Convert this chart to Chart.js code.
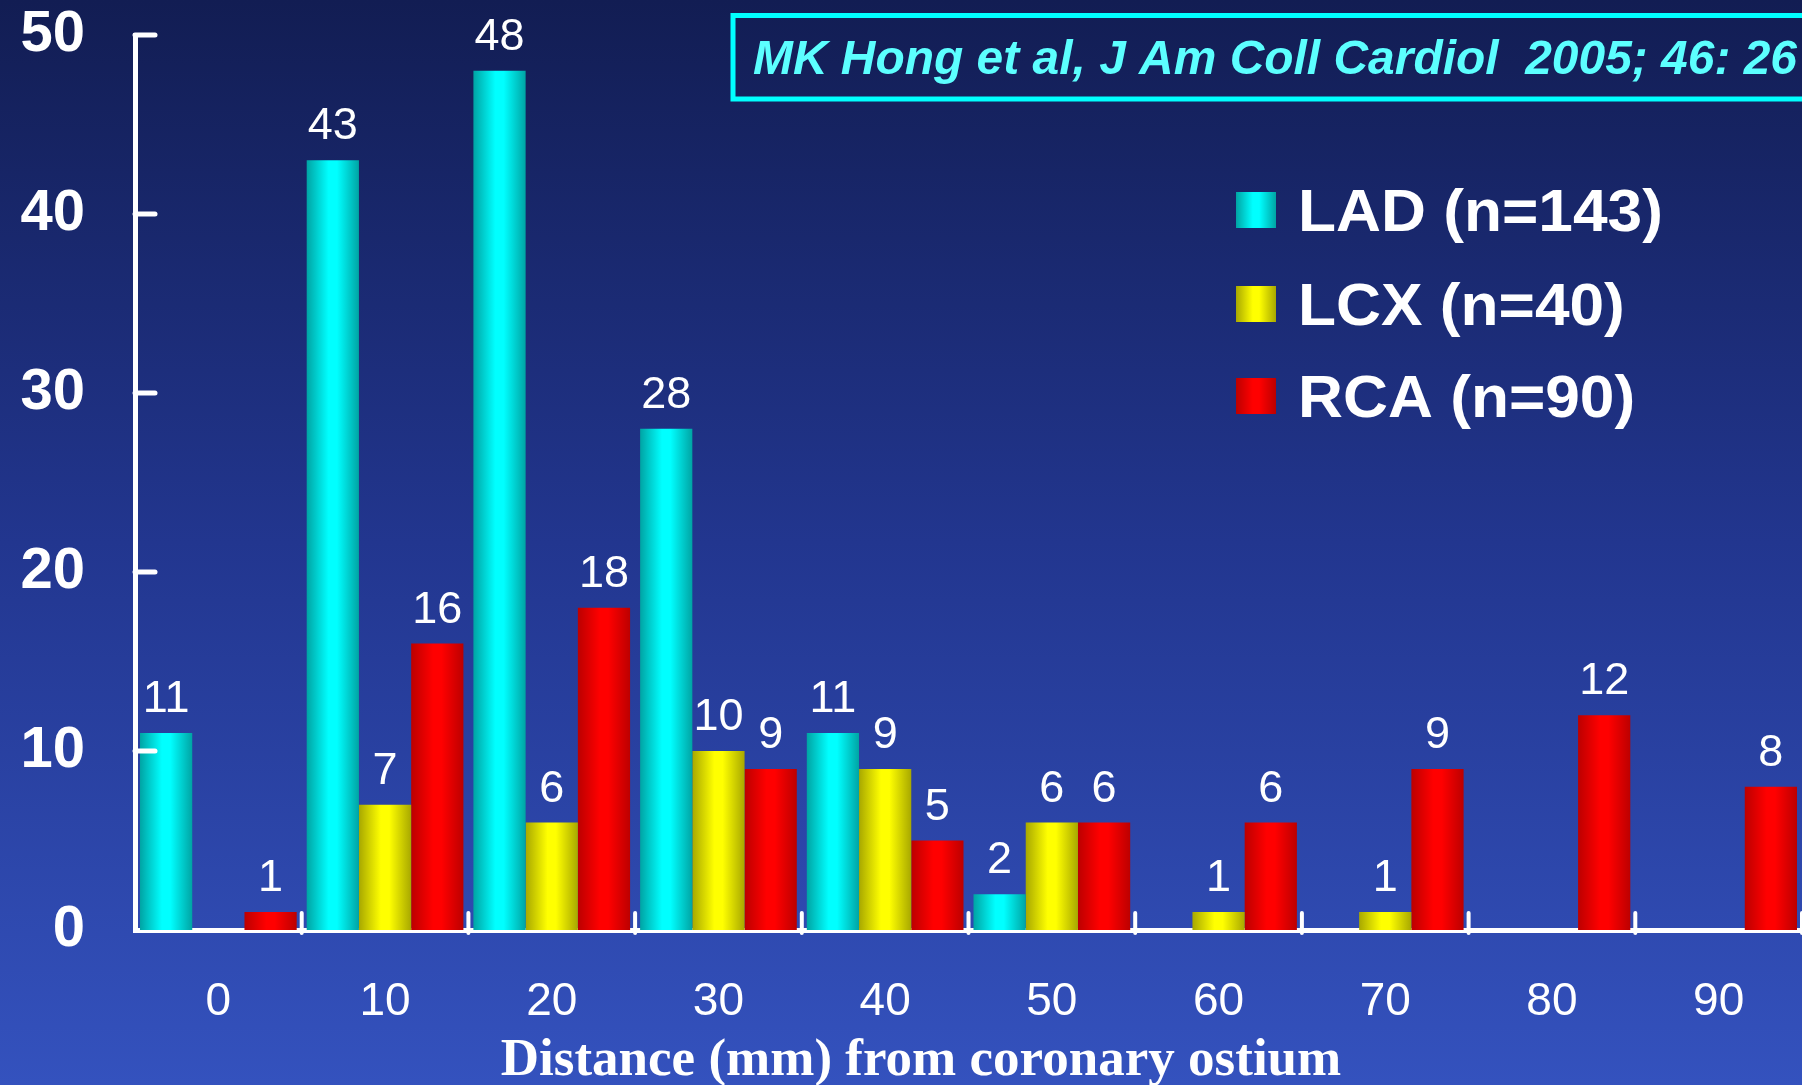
<!DOCTYPE html>
<html>
<head>
<meta charset="utf-8">
<script src="https://cdn.jsdelivr.net/npm/chart.js@4.4.1/dist/chart.umd.min.js"></script>
<style>
  html, body { margin: 0; padding: 0; overflow: hidden; background: #1c2c78; }
  canvas { display: block; }
</style>
</head>
<body>
<canvas id="c" width="1802" height="1085"></canvas>
<script>
// ---- data ----
const categories = ['0', '10', '20', '30', '40', '50', '60', '70', '80', '90'];
const ladValues = [11, 43, 48, 28, 11, 2, 0, 0, 0, 0];
const lcxValues = [0, 7, 6, 10, 9, 6, 1, 1, 0, 0];
const rcaValues = [1, 16, 18, 9, 5, 6, 6, 9, 12, 8];
const seriesNames = ['LAD (n=143)', 'LCX (n=40)', 'RCA (n=90)'];
const yTickValues = [0, 10, 20, 30, 40, 50];
const axisTitle = 'Distance (mm) from coronary ostium';
const citation = 'MK Hong et al, J Am Coll Cardiol  2005; 46: 26';

// ---- styles ----
const barColors = [
  { dark: '#00a4a4', bright: '#00ffff' },
  { dark: '#a8a800', bright: '#ffff00' },
  { dark: '#bc0000', bright: '#ff0000' }
];

function barGradient(ctx, x0, x1, c) {
  const g = ctx.createLinearGradient(x0, 0, x1, 0);
  g.addColorStop(0, c.dark);
  g.addColorStop(0.42, c.bright);
  g.addColorStop(0.58, c.bright);
  g.addColorStop(1, c.dark);
  return g;
}

const backgroundPlugin = {
  id: 'bg',
  beforeDraw(chart) {
    const ctx = chart.ctx;
    const g = ctx.createLinearGradient(0, 0, 0, chart.height);
    g.addColorStop(0, '#121d53');
    g.addColorStop(0.5, '#22368f');
    g.addColorStop(1, '#3452be');
    ctx.save();
    ctx.fillStyle = g;
    ctx.fillRect(0, 0, chart.width, chart.height);
    ctx.restore();
  }
};

const barShadePlugin = {
  id: 'barShade',
  beforeDatasetsDraw(chart) {
    const ctx = chart.ctx;
    chart.data.datasets.forEach((ds, di) => {
      const meta = chart.getDatasetMeta(di);
      meta.data.forEach(el => {
        const p = el.getProps(['x', 'width'], true);
        const g = barGradient(ctx, p.x - p.width / 2, p.x + p.width / 2, barColors[di]);
        el.options = Object.assign({}, el.options, { backgroundColor: g, borderWidth: 0 });
      });
    });
  }
};

const valueLabelPlugin = {
  id: 'valueLabels',
  afterDatasetsDraw(chart) {
    const ctx = chart.ctx;
    ctx.save();
    ctx.font = '45px "Liberation Sans", Arial, sans-serif';
    ctx.fillStyle = '#ffffff';
    ctx.textAlign = 'center';
    ctx.textBaseline = 'alphabetic';
    chart.data.datasets.forEach((ds, di) => {
      const meta = chart.getDatasetMeta(di);
      meta.data.forEach((el, i) => {
        const v = ds.data[i];
        if (!v) return;
        const p = el.getProps(['x', 'y'], true);
        ctx.fillText(String(v), p.x, p.y - 21);
      });
    });
    ctx.restore();
  }
};

function fitText(ctx, text, x, y, targetWidth) {
  const w = ctx.measureText(text).width;
  ctx.save();
  ctx.translate(x, y);
  ctx.scale(targetWidth / w, 1);
  ctx.fillText(text, 0, 0);
  ctx.restore();
}

const decorPlugin = {
  id: 'decor',
  afterDraw(chart) {
    const ctx = chart.ctx;
    const area = chart.chartArea;
    const xs = chart.scales.x;
    const ys = chart.scales.y;
    ctx.save();
    // inward tick marks
    ctx.strokeStyle = '#ffffff';
    ctx.lineWidth = 5;
    ctx.lineCap = 'round';
    yTickValues.forEach(v => {
      if (v === 0) return;
      const y = ys.getPixelForValue(v);
      ctx.beginPath();
      ctx.moveTo(area.left, y);
      ctx.lineTo(area.left + 20, y);
      ctx.stroke();
    });
    ctx.lineWidth = 4;
    const step = xs.getPixelForValue(1) - xs.getPixelForValue(0);
    for (let i = 1; i <= categories.length; i++) {
      const x = xs.getPixelForValue(i) - step / 2;
      ctx.beginPath();
      ctx.moveTo(x, area.bottom + 3);
      ctx.lineTo(x, area.bottom - 17);
      ctx.stroke();
    }

    // legend
    ctx.lineCap = 'butt';
    const rowY = [210, 304, 396];
    const rowW = [365, 290, 295];
    seriesNames.forEach((name, i) => {
      const g = barGradient(ctx, 1236, 1276, barColors[i]);
      ctx.fillStyle = g;
      ctx.fillRect(1236, rowY[i] - 18, 40, 36);
      ctx.fillStyle = '#ffffff';
      ctx.font = 'bold 59px "Liberation Sans", Arial, sans-serif';
      ctx.textAlign = 'left';
      ctx.textBaseline = 'alphabetic';
      const natural = ctx.measureText(name).width;
      fitText(ctx, name, 1298, rowY[i] + 21, natural * 1.055);
    });

    // citation box
    ctx.strokeStyle = '#00ffff';
    ctx.lineWidth = 5;
    ctx.strokeRect(733, 15.5, 1200, 83.5);
    ctx.font = 'italic bold 48px "Liberation Sans", Arial, sans-serif';
    ctx.fillStyle = '#5cffff';
    ctx.textAlign = 'left';
    fitText(ctx, citation, 753, 74, 1044);

    // x axis title
    ctx.font = 'bold 52px "Liberation Serif", "Times New Roman", serif';
    ctx.fillStyle = '#ffffff';
    ctx.textAlign = 'center';
    ctx.textBaseline = 'alphabetic';
    const tw = ctx.measureText(axisTitle).width;
    fitText(ctx, axisTitle, 921, 1075, tw * 1.02);
    ctx.restore();
  }
};

new Chart(document.getElementById('c'), {
  type: 'bar',
  data: {
    labels: categories,
    datasets: [
      { label: seriesNames[0], data: ladValues, backgroundColor: '#00ffff' },
      { label: seriesNames[1], data: lcxValues, backgroundColor: '#ffff00' },
      { label: seriesNames[2], data: rcaValues, backgroundColor: '#ff0000' }
    ]
  },
  options: {
    responsive: false,
    devicePixelRatio: 1,
    animation: false,
    layout: { padding: { top: 35, right: 0, bottom: 0, left: 0 } },
    datasets: { bar: { categoryPercentage: 0.94, barPercentage: 1.0, borderWidth: 0 } },
    plugins: { legend: { display: false }, tooltip: { enabled: false }, title: { display: false } },
    scales: {
      x: {
        z: 1,
        grid: { display: false, drawTicks: false },
        border: { display: true, color: '#ffffff', width: 5 },
        ticks: {
          color: '#ffffff',
          padding: 45,
          font: { family: '"Liberation Sans", Arial, sans-serif', size: 46 }
        },
        afterFit(scale) { scale.height = 155; scale.paddingLeft = 0; scale.paddingRight = 0; }
      },
      y: {
        z: 1,
        min: 0,
        max: 50,
        grid: { display: false, drawTicks: false },
        border: { display: true, color: '#ffffff', width: 5 },
        ticks: {
          stepSize: 10,
          color: '#ffffff',
          padding: 50,
          font: { family: '"Liberation Sans", Arial, sans-serif', size: 58, weight: 'bold' }
        },
        afterFit(scale) { scale.width = 135; scale.paddingTop = 0; scale.paddingBottom = 0; }
      }
    }
  },
  plugins: [backgroundPlugin, barShadePlugin, valueLabelPlugin, decorPlugin]
});
</script>
</body>
</html>
